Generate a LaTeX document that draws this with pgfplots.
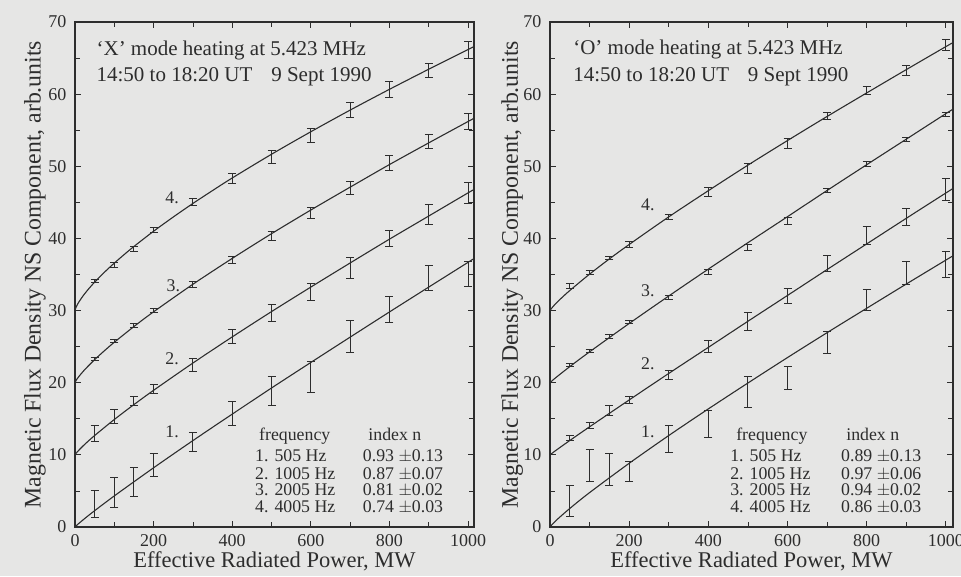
\documentclass[border=0pt]{standalone}
\usepackage{fontspec}
\setmainfont{Liberation Serif}
\usepackage{pgfplots}
\pgfplotsset{compat=1.18}
\definecolor{paper}{RGB}{230,230,229}
\definecolor{ink}{RGB}{45,45,45}
\pgfplotsset{
 panel/.style={
  scale only axis, height=505pt, ymin=0, ymax=70, xmin=0,
  xtick={0,200,...,1000}, ytick={0,10,...,70},
  minor x tick num=1, minor y tick num=1,
  tick align=inside, major tick length=6pt, minor tick length=5pt,
  tick style={ink, line width=0.8pt},
  axis line style={ink, line width=1.1pt},
  ticklabel style={font=\fontsize{18}{18}\selectfont, text=ink},
  xticklabel style={yshift=-4pt},
  yticklabel style={xshift=-5pt},
  /pgf/number format/assume math mode=true,
  /pgf/number format/set thousands separator={},
  xlabel style={font=\fontsize{22.5}{22.5}\selectfont, text=ink},
  ylabel style={font=\fontsize{23.8}{23.8}\selectfont, text=ink},
  xlabel={Effective Radiated Power, MW},
  ylabel={Magnetic Flux Density NS Component, arb.units},
  xlabel style={at={(axis description cs:0.5,-0.081)}, anchor=base},
 },
 fit/.style={ink, line width=1.1pt, no marks, smooth},
 err/.style={draw=none, no marks, error bars/.cd, y dir=both, y explicit,
   error bar style={draw=ink, line width=1pt, solid},
   error mark=-,
   error mark options={draw=ink, line width=1pt, mark size=4pt, rotate=90}},
}
\newcommand{\tf}{\fontsize{21}{21}\selectfont}
\newcommand{\tb}{\fontsize{17.8}{17.8}\selectfont}
\tikzset{tab/.style={anchor=base west, font=\tb, text=ink, inner sep=0pt}}
\begin{document}
\begin{tikzpicture}
\path[use as bounding box, fill=paper] (0,0) rectangle (961pt,576pt);
% ---------------- left panel ----------------
\begin{axis}[panel, at={(75pt,49pt)}, anchor=south west, width=399pt, xmax=1015,
  ylabel style={at={(axis description cs:-0.1003,0.5)}, anchor=center}]
\addplot[fit] coordinates {(0,30) (0.5,30.13) (2,30.36) (5,30.72) (10,31.20) (20,32.00) (30,32.70) (40,33.34) (50,33.94) (75,35.32) (100,36.58) (125,37.76) (150,38.89) (200,41.00) (250,42.97) (300,44.85) (350,46.64) (400,48.38) (500,51.67) (600,54.79) (700,57.79) (800,60.67) (900,63.46) (1000,66.19) (1015,66.58)};
\addplot[fit] coordinates {(0,20) (2,20.24) (5,20.5) (10,20.87) (20,21.52) (30,22.11) (50,23.2) (75,24.44) (100,25.61) (150,27.79) (200,29.83) (300,33.65) (400,37.23) (500,40.66) (600,43.94) (700,47.11) (800,50.24) (900,53.25) (1000,56.21) (1015,56.65)};
\addplot[fit] coordinates {(0,10) (2,10.16) (5,10.36) (10,10.66) (20,11.21) (30,11.72) (50,12.68) (100,14.90) (150,16.97) (200,18.95) (300,22.73) (400,26.35) (500,29.86) (600,33.26) (700,36.60) (800,39.90) (900,43.11) (1000,46.32) (1015,46.78)};
\addplot[fit] coordinates {(0,0) (2,0.11) (5,0.27) (10,0.51) (20,0.96) (30,1.41) (50,2.26) (100,4.31) (200,8.21) (300,11.98) (400,15.65) (500,19.27) (600,22.81) (700,26.32) (800,29.81) (900,33.26) (1000,36.69) (1015,37.22)};
\addplot[err] table[y error index=2] {
50 34.1 0.25
100 36.3 0.3
150 38.6 0.35
200 41.2 0.35
300 45.0 0.5
400 48.3 0.75
500 51.3 0.9
600 54.3 1.0
700 57.8 1.0
800 60.7 1.1
900 63.3 1.0
1000 66.1 1.15
};
\addplot[err] table[y error index=2] {
50 23.3 0.25
100 25.8 0.25
150 27.9 0.3
200 30.0 0.3
300 33.6 0.4
400 37.0 0.5
500 40.3 0.6
600 43.5 0.75
700 47.0 0.9
800 50.4 1.05
900 53.4 1.0
1000 56.2 1.1
};
\addplot[err] table[y error index=2] {
50 13.0 1.1
100 15.3 1.0
150 17.5 0.6
200 19.1 0.6
300 22.5 0.9
400 26.4 1.0
500 29.7 1.2
600 32.6 1.2
700 35.9 1.45
800 40.0 1.15
900 43.3 1.4
1000 46.3 1.5
};
\addplot[err] table[y error index=2] {
50 3.15 1.85
100 4.76 2.1
150 6.24 2.0
200 8.6 1.6
300 11.76 1.3
400 15.7 1.66
500 18.8 2.0
600 20.8 2.1
700 26.4 2.2
800 30.2 1.8
900 34.5 1.7
1000 35.1 1.7
};
\node[anchor=base west, font=\tf, text=ink] at (axis cs:46,65.4) {`X' mode heating at 5.423 MHz};
\node[anchor=base west, font=\tf, text=ink] at (axis cs:46,61.7) {14:50 to 18:20 UT\hspace{0.9em}9 Sept 1990};
\node[font=\tb, text=ink] at (axis cs:247,45.6) {4.};
\node[font=\tb, text=ink] at (axis cs:250,33.5) {3.};
\node[font=\tb, text=ink] at (axis cs:247,23.3) {2.};
\node[font=\tb, text=ink] at (axis cs:247,13.2) {1.};
\node[tab] at (axis cs:468,11.96) {frequency};
\node[tab] at (axis cs:746,11.96) {index n};
\node[tab] at (axis cs:458,9.05) {1. 505 Hz};
\node[tab] at (axis cs:458,6.6) {2. 1005 Hz};
\node[tab] at (axis cs:458,4.3) {3. 2005 Hz};
\node[tab] at (axis cs:458,1.98) {4. 4005 Hz};
\node[tab] at (axis cs:732,9.05) {0.93 $\pm$0.13};
\node[tab] at (axis cs:732,6.6) {0.87 $\pm$0.07};
\node[tab] at (axis cs:732,4.3) {0.81 $\pm$0.02};
\node[tab] at (axis cs:732,1.98) {0.74 $\pm$0.03};
\end{axis}
% ---------------- right panel ----------------
\begin{axis}[panel, at={(550pt,49pt)}, anchor=south west, width=403pt, xmax=1018,
  ylabel style={at={(axis description cs:-0.094,0.5)}, anchor=center}]
\addplot[fit] coordinates {(0,30) (2,30.17) (5,30.38) (10,30.70) (20,31.27) (30,31.79) (50,32.78) (100,35.05) (150,37.16) (200,39.16) (300,42.99) (400,46.62) (500,50.16) (600,53.57) (700,56.91) (800,60.17) (900,63.40) (1000,66.59) (1018,67.14)};
\addplot[fit] coordinates {(0,20) (5,20.26) (10,20.49) (20,20.94) (50,22.23) (100,24.28) (200,28.21) (300,32.02) (400,35.75) (500,39.41) (600,43.02) (700,46.65) (800,50.22) (900,53.76) (1000,57.30) (1018,57.91)};
\addplot[fit] coordinates {(0,10) (5,10.21) (10,10.42) (20,10.82) (50,11.99) (100,13.89) (200,17.61) (300,21.29) (400,24.90) (500,28.52) (600,32.10) (700,35.69) (800,39.24) (900,42.79) (1000,46.30) (1018,46.92)};
\addplot[fit] coordinates {(0,0) (5,0.33) (10,0.61) (20,1.14) (50,2.57) (100,4.77) (200,8.83) (300,12.68) (400,16.37) (500,19.96) (600,23.49) (700,26.94) (800,30.32) (900,33.68) (1000,37.00) (1018,37.59)};
\addplot[err] table[y error index=2] {
50 33.4 0.3
100 35.3 0.25
150 37.3 0.25
200 39.2 0.4
300 43.0 0.35
400 46.4 0.6
500 49.7 0.65
600 53.1 0.7
700 57.0 0.5
800 60.5 0.6
900 63.25 0.7
1000 66.8 0.75
};
\addplot[err] table[y error index=2] {
50 22.5 0.2
100 24.4 0.2
150 26.4 0.25
200 28.4 0.25
300 31.8 0.3
400 35.4 0.35
500 38.7 0.4
600 42.4 0.5
700 46.6 0.3
800 50.3 0.35
900 53.7 0.3
1000 57.2 0.3
};
\addplot[err] table[y error index=2] {
50 12.4 0.35
100 14.1 0.4
150 16.2 0.7
200 17.6 0.5
300 21.1 0.6
400 25.0 0.8
500 28.5 1.2
600 32.0 1.0
700 36.5 1.1
800 40.4 1.3
900 43.0 1.15
1000 46.8 1.5
};
\addplot[err] table[y error index=2] {
50 3.6 2.1
100 8.5 2.2
150 8.0 2.2
200 7.7 1.4
300 12.2 1.9
400 14.3 1.9
500 18.7 2.1
600 20.7 1.6
700 25.6 1.55
800 31.5 1.45
900 35.2 1.55
1000 36.4 1.8
};
\node[anchor=base west, font=\tf, text=ink] at (axis cs:50,65.5) {`O' mode heating at 5.423 MHz};
\node[anchor=base west, font=\tf, text=ink] at (axis cs:50,61.7) {14:50 to 18:20 UT\hspace{0.9em}9 Sept 1990};
\node[font=\tb, text=ink] at (axis cs:247,44.6) {4.};
\node[font=\tb, text=ink] at (axis cs:247,32.8) {3.};
\node[font=\tb, text=ink] at (axis cs:247,22.7) {2.};
\node[font=\tb, text=ink] at (axis cs:247,13.2) {1.};
\node[tab] at (axis cs:470,11.96) {frequency};
\node[tab] at (axis cs:748,11.96) {index n};
\node[tab] at (axis cs:455,9.05) {1. 505 Hz};
\node[tab] at (axis cs:455,6.6) {2. 1005 Hz};
\node[tab] at (axis cs:455,4.3) {3. 2005 Hz};
\node[tab] at (axis cs:455,1.98) {4. 4005 Hz};
\node[tab] at (axis cs:735,9.05) {0.89 $\pm$0.13};
\node[tab] at (axis cs:735,6.6) {0.97 $\pm$0.06};
\node[tab] at (axis cs:735,4.3) {0.94 $\pm$0.02};
\node[tab] at (axis cs:735,1.98) {0.86 $\pm$0.03};
\end{axis}
\end{tikzpicture}
\end{document}
